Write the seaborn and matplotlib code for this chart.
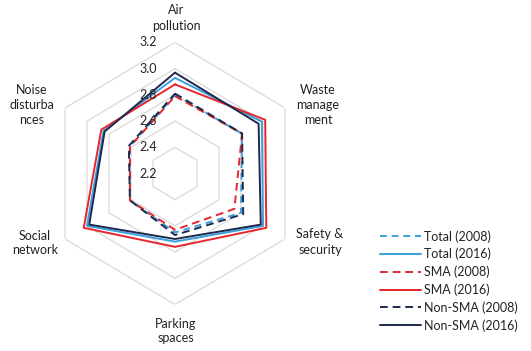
import numpy as np
import pandas as pd
import matplotlib
matplotlib.use("Agg")
import matplotlib.pyplot as plt
import seaborn as sns

categories = ["Air\npollution", "Waste\nmanage\nment", "Safety &\nsecurity",
              "Parking\nspaces", "Social\nnetwork", "Noise\ndisturba\nnces"]
series_names = ["Total (2008)", "Total (2016)", "SMA (2008)", "SMA (2016)",
                "Non-SMA (2008)", "Non-SMA (2016)"]
total_2008 = [2.80, 2.81, 2.80, 2.65, 2.61, 2.61]
total_2016 = [2.93, 2.99, 3.00, 2.72, 3.00, 2.85]
sma_2008 = [2.79, 2.81, 2.74, 2.63, 2.61, 2.61]
sma_2016 = [2.88, 3.02, 3.03, 2.76, 3.03, 2.87]
nonsma_2008 = [2.81, 2.81, 2.82, 2.67, 2.61, 2.62]
nonsma_2016 = [2.97, 2.96, 2.98, 2.70, 2.98, 2.84]
r_ticks = [2.2, 2.4, 2.6, 2.8, 3.0, 3.2]

values = [total_2008, total_2016, sma_2008, sma_2016, nonsma_2008, nonsma_2016]

n = len(categories)
angles = [i * 2 * np.pi / n for i in range(n)]
angles_closed = angles + [2 * np.pi]

rows = []
for name, vals in zip(series_names, values):
    vals_c = list(vals) + [vals[0]]
    for a, v in zip(angles_closed, vals_c):
        rows.append({"theta": a, "value": v, "series": name})
df = pd.DataFrame(rows)

sns.set_style("white")
plt.rcParams["font.family"] = ["Lato", "DejaVu Sans"]

BLUE = "#3C9FDD"
RED = "#E5262D"
NAVY = "#1C2A4C"
palette = {"Total (2008)": BLUE, "Total (2016)": BLUE,
           "SMA (2008)": RED, "SMA (2016)": RED,
           "Non-SMA (2008)": NAVY, "Non-SMA (2016)": NAVY}
dashes = {"Total (2008)": (3.5, 2.5), "Total (2016)": "",
          "SMA (2008)": (4, 2.5), "SMA (2016)": "",
          "Non-SMA (2008)": (4, 2.5), "Non-SMA (2016)": ""}

fig = plt.figure(figsize=(5.31, 3.51), dpi=100)
ax = fig.add_axes([48 / 531, 1 - 304.5 / 351, 254 / 531, 262 / 351], projection="polar")
ax.set_theta_zero_location("N")
ax.set_theta_direction(-1)
ax.set_ylim(2.2, 3.2)

# hexagonal gridlines
for r in r_ticks[1:]:
    ax.plot(angles_closed, [r] * (n + 1), color="#D9D9D9", lw=0.9, zorder=1)

sns.lineplot(data=df, x="theta", y="value", hue="series", style="series",
             palette=palette, dashes=dashes, sort=False, estimator=None,
             linewidth=1.4, ax=ax, zorder=3, hue_order=series_names,
             style_order=series_names)

ax.set_aspect("auto")
ax.grid(False)
ax.spines["polar"].set_visible(False)
ax.set_xticks([])
ax.set_yticks([])
ax.set_xlabel("")
ax.set_ylabel("")

for r in r_ticks:
    ax.annotate(f"{r:.1f}", xy=(0, r), xytext=(-18, 0), textcoords="offset pixels",
                ha="right", va="center", fontsize=9, color="#222222")

label_pos = [(176, 18), (318, 105), (320, 242), (176, 331), (35, 243), (32, 105)]
for lab, (px, py) in zip(categories, label_pos):
    fig.text(px / 531, 1 - py / 351, lab, ha="center", va="center", fontsize=9,
             color="#222222", linespacing=1.3)

handles, labels = ax.get_legend_handles_labels()
if ax.get_legend() is not None:
    ax.get_legend().remove()
leg = fig.legend(handles, labels, loc="upper left",
                 bbox_to_anchor=(380 / 531, 1 - 230 / 351), frameon=False,
                 fontsize=9, handlelength=3.3, handletextpad=0.2,
                 labelspacing=0.42, borderpad=0, borderaxespad=0)
for t in leg.get_texts():
    t.set_color("#222222")

fig.savefig("out.png", dpi=100)
